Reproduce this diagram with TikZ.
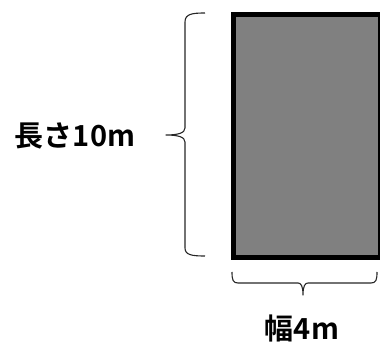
\documentclass[tikz,border=0pt]{standalone}
\usepackage{fontspec}
\newfontfamily\jp{Noto Sans CJK JP Bold}
\begin{document}
\begin{tikzpicture}[x=1pt,y=-1pt,
  lbl/.style={font=\jp\fontsize{29}{32}\selectfont, inner sep=0pt, anchor=center},
  bracepath/.style={draw=black!85, line width=1.1pt, line join=round}]
\useasboundingbox (0,0) rectangle (380,347);
\node[draw=black, line width=5pt, fill={rgb,255:red,128;green,128;blue,128},
  minimum width=147pt, minimum height=243pt, inner sep=0pt, anchor=north west] (plot) at (230.5,12.5) {};
\node[lbl] (len) at (75,136) {長さ10m};
\node[lbl] (wid) at (302,328) {幅4m};
% left brace
\coordinate (lt) at (205,13);
\coordinate (lb) at (205,256);
\coordinate (ltip) at (166,135);
\draw[bracepath] (lt) .. controls (192,13) and (185,14) .. (185,22)
  -- (185,128) .. controls (185,133) and (178,135) .. (ltip)
  .. controls (178,135) and (185,137) .. (185,142)
  -- (185,248) .. controls (185,255) and (192,256) .. (lb);
% bottom brace
\coordinate (bl) at (232,272);
\coordinate (br) at (377,272);
\coordinate (btip) at (303,295);
\draw[bracepath] (bl) .. controls (232,280) and (233,283) .. (238,283)
  -- (298,283) .. controls (301,283) and (303,286) .. (btip)
  .. controls (303,286) and (305,283) .. (308,283)
  -- (371,283) .. controls (376,283) and (377,280) .. (br);
\end{tikzpicture}
\end{document}
